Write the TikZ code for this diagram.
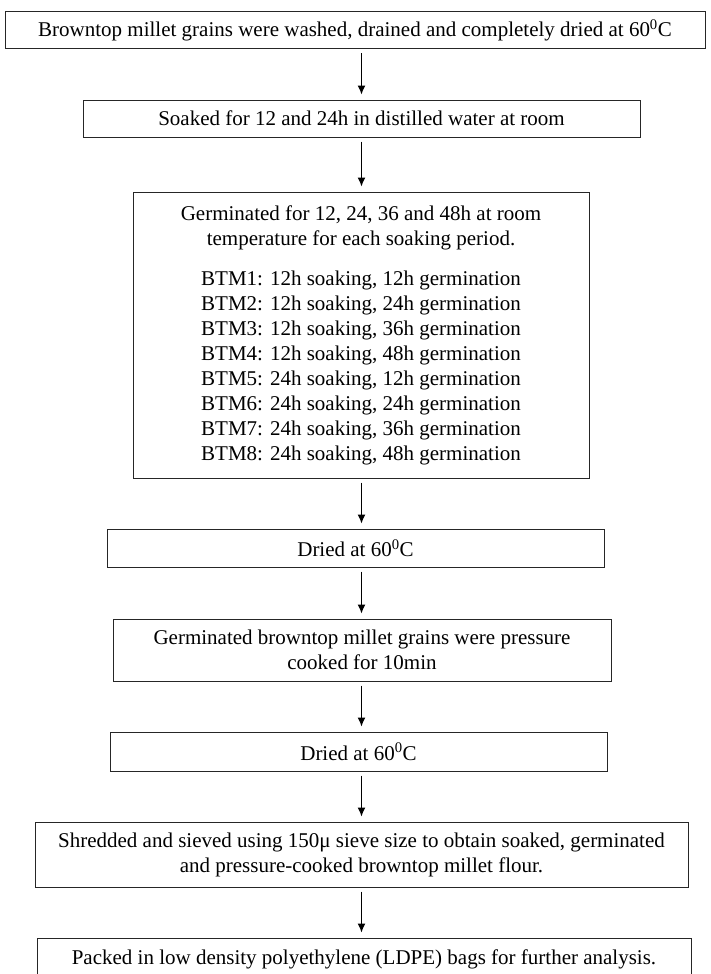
\documentclass[tikz,border=0pt]{standalone}
\usepackage{fontspec}
\setmainfont{Liberation Serif}
\usepackage{tikz}
\usetikzlibrary{arrows.meta, positioning}
\tikzstyle{line} = [draw=black, -{Latex[length=9pt,width=8pt]}, line width=1.2pt, shorten <=4pt, shorten >=5pt]

\begin{document}
\begin{tikzpicture}[x=1pt, y=-1pt, box/.style={draw=black!85, line width=1pt, inner sep=0pt, align=center, font=\fontsize{21}{25}\selectfont}]

    \useasboundingbox (0,0) rectangle (710,974);
    \coordinate (axis) at (361.5,0);

    \node[box, minimum width=700pt, minimum height=37pt] (wash) at (355,30.5)
      {Browntop millet grains were washed, drained and completely dried at 60\textsuperscript{0}C};
    \node[box, minimum width=557pt, minimum height=37pt] (soak) at (361.5,118.5)
      {Soaked for 12 and 24h in distilled water at room};
    \node[box, minimum width=456pt, minimum height=286pt] (germ) at (361,335)
      {Germinated for 12, 24, 36 and 48h at room\\ temperature for each soaking period.\\[15pt]
       BTM1: 12h soaking, 12h germination\\ BTM2: 12h soaking, 24h germination\\
       BTM3: 12h soaking, 36h germination\\ BTM4: 12h soaking, 48h germination\\
       BTM5: 24h soaking, 12h germination\\ BTM6: 24h soaking, 24h germination\\
       BTM7: 24h soaking, 36h germination\\ BTM8: 24h soaking, 48h germination};
    \node[box, minimum width=497pt, minimum height=38pt] (dryA) at (355.5,548)
      {Dried at 60\textsuperscript{0}C};
    \node[box, minimum width=498pt, minimum height=62pt] (cook) at (362,650)
      {Germinated browntop millet grains were pressure\\ cooked for 10min};
    \node[box, minimum width=497pt, minimum height=39pt] (dryB) at (358.5,751.5)
      {Dried at 60\textsuperscript{0}C};
    \node[box, minimum width=653pt, minimum height=65pt] (sieve) at (361.5,854.5)
      {Shredded and sieved using 150μ sieve size to obtain soaked, germinated\\ and pressure-cooked browntop millet flour.};
    \node[box, minimum width=654pt, minimum height=42pt] (pack) at (364,959)
      {Packed in low density polyethylene (LDPE) bags for further analysis.};

    % arrows down the middle
    \draw[line] (wash.south -| axis) -- (soak.north -| axis);
    \draw[line] (soak.south -| axis) -- (germ.north -| axis);
    \draw[line] (germ.south -| axis) -- (dryA.north -| axis);
    \draw[line] (dryA.south -| axis) -- (cook.north -| axis);
    \draw[line] (cook.south -| axis) -- (dryB.north -| axis);
    \draw[line] (dryB.south -| axis) -- (sieve.north -| axis);
    \draw[line] (sieve.south -| axis) -- (pack.north -| axis);

\end{tikzpicture}
\end{document}
